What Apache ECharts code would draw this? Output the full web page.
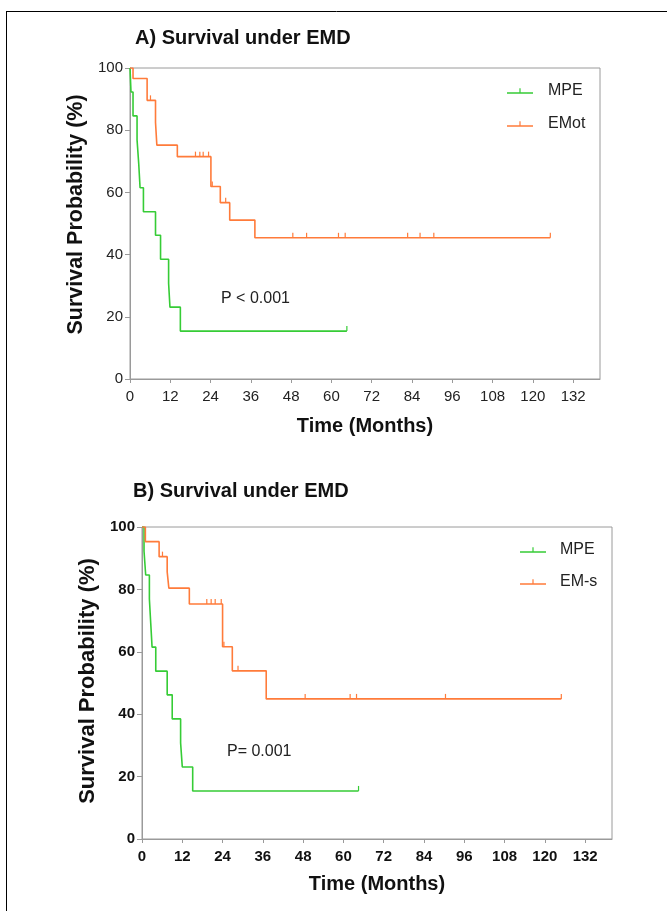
<!DOCTYPE html>
<html>
<head>
<meta charset="utf-8">
<script src="https://cdn.jsdelivr.net/npm/echarts@6/dist/echarts.min.js"></script>
<style>
html,body{margin:0;padding:0;background:#fff;}
#c{width:667px;height:911px;}
</style>
</head>
<body>
<div id="c"></div>
<script>
// ---- data (months, survival %) ----
const xTicks = [0, 12, 24, 36, 48, 60, 72, 84, 96, 108, 120, 132];
const yTicks = [0, 20, 40, 60, 80, 100];

const mpeA = [[0,100],[0.3,92.3],[0.9,84.6],[2.1,76.9],[2.6,69.2],[3.0,61.5],[4.0,53.8],[7.6,46.2],[9.1,38.5],[11.5,30.8],[11.9,23.1],[15.0,15.4],[64.6,15.4]];
const mpeACens = [[64.6,15.4]];
const emotA = [[0,100],[0.9,96.6],[5.1,89.6],[7.6,82.5],[8.0,75.2],[14.1,71.5],[24.1,61.9],[26.9,56.7],[29.7,51.1],[37.2,45.4],[125.2,45.4]];
const emotACens = [[6.1,89.6],[19.5,71.5],[20.8,71.5],[21.8,71.5],[23.4,71.5],[24.5,61.9],[28.5,56.7],[48.5,45.4],[52.6,45.4],[62.1,45.4],[64.1,45.4],[82.7,45.4],[86.4,45.4],[90.5,45.4],[125.2,45.4]];

const mpeB = [[0,100],[0.6,92.3],[1.1,84.6],[2.2,76.9],[2.6,69.2],[3.0,61.5],[4.1,53.8],[7.5,46.2],[9.0,38.5],[11.5,30.8],[12.0,23.1],[15.1,15.4],[64.5,15.4]];
const mpeBCens = [[64.5,15.4]];
const emsB = [[0,100],[1.0,95.3],[5.1,90.5],[7.5,85.6],[8.0,80.4],[14.1,75.3],[24.0,61.6],[26.9,53.9],[37.0,44.9],[124.9,44.9]];
const emsBCens = [[6.1,90.5],[19.3,75.3],[20.6,75.3],[21.8,75.3],[23.6,75.3],[24.4,61.6],[28.6,53.9],[48.6,44.9],[62.0,44.9],[63.9,44.9],[90.4,44.9],[124.9,44.9]];

const titles = ['A) Survival under EMD', 'B) Survival under EMD'];
const pTexts = ['P < 0.001', 'P= 0.001'];

// ---- styling ----
const GREEN = '#36cc36';
const ORANGE = '#ff7b3a';
const AX = '#9a9a9a';
const FONT = 'Liberation Sans, Arial, sans-serif';
const legendIcon = 'path://M0,5 L26,5 L26,6.5 L0,6.5 Z M12.4,1 L13.6,1 L13.6,5 L12.4,5 Z';

function kmLine(name, data, color, idx) {
  return {
    name: name, type: 'line', step: 'end', data: data,
    xAxisIndex: idx, yAxisIndex: idx,
    symbol: 'none', color: color,
    lineStyle: {color: color, width: 1.6},
    itemStyle: {color: color},
    animation: false, silent: true, z: 3
  };
}
function censor(name, data, color, idx) {
  return {
    name: name, type: 'custom', data: data,
    xAxisIndex: idx, yAxisIndex: idx,
    renderItem: function (params, api) {
      const p = api.coord([api.value(0), api.value(1)]);
      return {type: 'line', shape: {x1: p[0], y1: p[1], x2: p[0], y2: p[1] - 5},
              style: {stroke: color, lineWidth: 1.2}};
    },
    animation: false, silent: true, z: 4
  };
}
function xAx(idx, bold) {
  return {
    type: 'value', gridIndex: idx, min: 0, max: 140,
    name: 'Time (Months)', nameLocation: 'middle', nameGap: idx === 0 ? 37 : 35,
    nameTextStyle: {fontFamily: FONT, fontSize: 20, fontWeight: 'bold', color: '#111'},
    axisLine: {show: true, onZero: false, lineStyle: {color: AX, width: 1}},
    axisTick: {show: true, length: 4, lineStyle: {color: AX}, customValues: xTicks},
    axisLabel: {customValues: xTicks, fontFamily: FONT, fontSize: 15, margin: 10,
                fontWeight: bold ? 'bold' : 'normal', color: bold ? '#111' : '#222'},
    splitLine: {show: false}
  };
}
function yAx(idx, bold) {
  return {
    type: 'value', gridIndex: idx, min: 0, max: 100,
    name: 'Survival Probability (%)', nameLocation: 'middle', nameGap: idx === 0 ? 40 : 38,
    nameTextStyle: {fontFamily: FONT, fontSize: idx === 0 ? 21.5 : 22, fontWeight: 'bold', color: '#111',
                    padding: idx === 0 ? [0, 0, 0, 18] : [0, 0, 0, 4]},
    axisLine: {show: true, lineStyle: {color: AX, width: 1}},
    axisTick: {show: true, length: 5, lineStyle: {color: AX}, customValues: yTicks},
    axisLabel: {customValues: yTicks, fontFamily: FONT, fontSize: 15, margin: 7,
                fontWeight: bold ? 'bold' : 'normal', color: bold ? '#111' : '#222'},
    splitLine: {show: false}
  };
}

const chart = echarts.init(document.getElementById('c'), null, {renderer: 'canvas'});
chart.setOption({
  backgroundColor: '#fff',
  animation: false,
  title: [
    {text: titles[0], left: 135, top: 28, padding: 0, textStyle: {fontFamily: FONT, fontSize: 20, fontWeight: 'bold', color: '#111'}},
    {text: titles[1], left: 133, top: 481, padding: 0, textStyle: {fontFamily: FONT, fontSize: 20, fontWeight: 'bold', color: '#111'}}
  ],
  grid: [
    {left: 130, top: 68, width: 470, height: 311, show: true, borderColor: AX, borderWidth: 1, backgroundColor: 'transparent'},
    {left: 142, top: 527, width: 470, height: 312, show: true, borderColor: AX, borderWidth: 1, backgroundColor: 'transparent'}
  ],
  xAxis: [xAx(0, false), xAx(1, true)],
  yAxis: [yAx(0, false), yAx(1, true)],
  legend: [
    {data: ['MPE', 'EMot'], orient: 'vertical', left: 507, top: 82, padding: 0, itemGap: 15,
     itemWidth: 26, itemHeight: 5.5, icon: legendIcon, selectedMode: false,
     textStyle: {fontFamily: FONT, fontSize: 16, color: '#222', lineHeight: 18, padding: [0, 0, 0, 10]}},
    {data: ['MPE ', 'EM-s'], orient: 'vertical', left: 520, top: 541, padding: 0, itemGap: 14,
     itemWidth: 26, itemHeight: 5.5, icon: legendIcon, selectedMode: false,
     formatter: function (n) { return n.trim(); },
     textStyle: {fontFamily: FONT, fontSize: 16, color: '#222', lineHeight: 18, padding: [0, 0, 0, 9]}}
  ],
  graphic: [
    {type: 'line', shape: {x1: 6, y1: 11.5, x2: 667, y2: 11.5}, style: {stroke: '#000', lineWidth: 1}},
    {type: 'line', shape: {x1: 6.5, y1: 11, x2: 6.5, y2: 911}, style: {stroke: '#000', lineWidth: 1}},
    {type: 'text', left: 221, top: 291, style: {text: pTexts[0], font: '16px ' + FONT, fill: '#222'}},
    {type: 'text', left: 227, top: 744, style: {text: pTexts[1], font: '16px ' + FONT, fill: '#222'}}
  ],
  series: [
    kmLine('MPE', mpeA, GREEN, 0),
    kmLine('EMot', emotA, ORANGE, 0),
    censor('mpeA-c', mpeACens, GREEN, 0),
    censor('emotA-c', emotACens, ORANGE, 0),
    kmLine('MPE ', mpeB, GREEN, 1),
    kmLine('EM-s', emsB, ORANGE, 1),
    censor('mpeB-c', mpeBCens, GREEN, 1),
    censor('emsB-c', emsBCens, ORANGE, 1)
  ]
});
</script>
</body>
</html>
